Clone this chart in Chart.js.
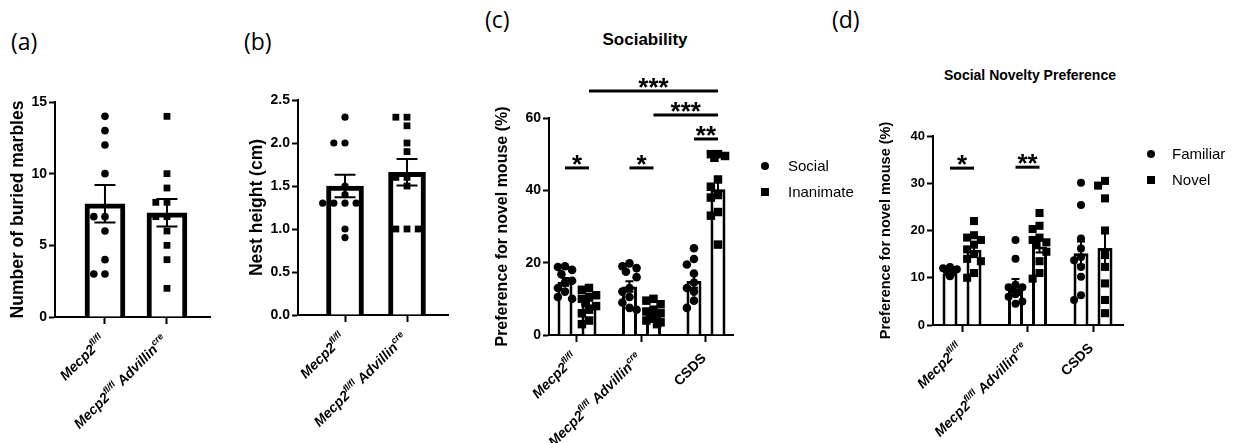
<!DOCTYPE html>
<html><head><meta charset="utf-8">
<script src="https://cdn.jsdelivr.net/npm/chart.js@4.4.1/dist/chart.umd.min.js"></script>
<style>
html,body{margin:0;padding:0;background:#fff;width:1234px;height:443px;overflow:hidden;position:relative;}
canvas{position:absolute;top:0;}
.plabel{position:absolute;font-family:"Open Sans","DejaVu Sans",sans-serif;font-size:23px;color:#000;line-height:1;}
.title{position:absolute;font-family:"Liberation Sans",Arial,sans-serif;font-weight:bold;color:#000;transform:translateX(-50%);white-space:nowrap;line-height:1;}
</style></head>
<body>
<div class="plabel" style="left:11px;top:30px">(a)</div>
<div class="plabel" style="left:244px;top:30px">(b)</div>
<div class="plabel" style="left:485px;top:8px">(c)</div>
<div class="plabel" style="left:832px;top:8px">(d)</div>
<div class="title" style="left:645px;top:31px;font-size:17px">Sociability</div>
<div class="title" style="left:1030px;top:68px;font-size:14px">Social Novelty Preference</div>
<canvas id="ca" width="235" height="443" style="left:0px;width:235px;height:443px"></canvas>
<canvas id="cb" width="245" height="443" style="left:235px;width:245px;height:443px"></canvas>
<canvas id="cc" width="380" height="443" style="left:480px;width:380px;height:443px"></canvas>
<canvas id="cd" width="374" height="443" style="left:860px;width:374px;height:443px"></canvas>
<script>
// ---------- DATA ----------
const groupsAB = ['*Mecp2*^{fl/fl}', '*Mecp2*^{fl/fl} *Advillin*^{cre}'];
const groupsCD = ['*Mecp2*^{fl/fl}', '*Mecp2*^{fl/fl} *Advillin*^{cre}', 'CSDS'];

// (a) buried marbles
const marblesMean = [7.9, 7.27];
const marblesCtrl = [14, 13, 12, 10, 7, 7, 6, 4, 3, 3];
const marblesCko = [14, 10, 9, 8, 8, 7, 7, 6, 5, 4, 2];
const marblesTicks = [0, 5, 10, 15];

// (b) nest height
const nestMean = [1.5, 1.66];
const nestCtrl = [2.3, 2.0, 2.0, 1.5, 1.4, 1.3, 1.3, 1.3, 1.3, 1.0, 0.9];
const nestCko = [2.3, 2.3, 2.2, 2.0, 1.9, 1.6, 1.6, 1.5, 1.0, 1.0, 1.0];
const nestTicks = [0, 0.5, 1, 1.5, 2, 2.5];

// (c) sociability
const socSeries = ['Social', 'Inanimate'];
const socSocialMean = [14.7, 13.4, 14.9];
const socInanMean = [8.5, 6.0, 40.3];
const socSocialPts = [
  [19, 18.8, 18, 16.8, 15, 14.5, 13, 12, 10.5, 10],
  [19.8, 19, 18.5, 17.5, 16, 13, 12, 10.5, 9, 7.5, 7],
  [24, 21, 19.5, 17, 14.5, 13, 12, 9.5, 7.5]
];
const socInanPts = [
  [13, 12.5, 11, 10.5, 10, 9, 8, 7, 6, 4, 3],
  [10, 9.5, 8.5, 7, 6.5, 6, 5, 4.5, 4, 3.5, 3],
  [50, 50, 49.5, 49, 43, 41, 39, 38, 34, 33, 25]
];
const socTicks = [0, 20, 40, 60];
const socComparisons = [
  {a: [0, 0], b: [0, 1], y: 46.2, label: '*'},
  {a: [1, 0], b: [1, 1], y: 46.2, label: '*'},
  {a: [2, 0], b: [2, 1], y: 54.2, label: '**'},
  {a: [1, 1], b: [2, 1], y: 60.8, label: '***'},
  {a: [0, 1], b: [2, 1], y: 67.5, label: '***'}
];

// (d) social novelty
const novSeries = ['Familiar', 'Novel'];
const novFamMean = [10.9, 8.5, 15.2];
const novNovMean = [15.9, 16.6, 16.3];
const novFamPts = [
  [12.3, 12, 11.8, 11.5, 11.2, 11, 11, 10.7, 10.5, 10.3],
  [18, 14, 8.5, 8, 8, 7.5, 7, 6.5, 6, 5, 4.5],
  [30.1, 25.4, 18.3, 16.2, 14.4, 13.7, 12.3, 10.2, 6.3, 5.3]
];
const novNovPts = [
  [22, 19, 18.5, 18, 17, 16, 15, 14, 13.5, 11, 10],
  [23.7, 21, 20.3, 18.5, 18, 17.5, 17, 15.5, 13.5, 11, 9.8],
  [30.5, 29.5, 26.8, 20, 14.8, 12.3, 8.8, 5.3, 2.5]
];
const novTicks = [0, 10, 20, 30, 40];
const novComparisons = [
  {a: [0, 0], b: [0, 1], y: 33.2, label: '*'},
  {a: [1, 0], b: [1, 1], y: 33.4, label: '**'}
];

// ---------- HELPERS ----------
const FONT = '"Liberation Sans", Arial, sans-serif';

function sem(arr) {
  const n = arr.length;
  const m = arr.reduce((a, b) => a + b, 0) / n;
  const v = arr.reduce((a, b) => a + (b - m) * (b - m), 0) / (n - 1);
  return Math.sqrt(v / n);
}

function swarm(values, center, thr, step, maxSlot) {
  const order = values.map((v, i) => i).sort((i, j) => values[j] - values[i]);
  const slots = [0];
  for (let s = 1; s <= maxSlot; s++) slots.push(-s, s);
  for (let s = 0; s < maxSlot; s++) slots.push(-(s + 0.5), s + 0.5);
  const placed = [];
  const out = new Array(values.length);
  order.forEach(i => {
    const v = values[i];
    const near = placed.filter(p => Math.abs(p.v - v) < thr);
    let best = 0, bestScore = -1;
    for (const s of slots) {
      const d = near.length ? Math.min(...near.map(p => Math.abs(p.s - s))) : Infinity;
      if (d >= 1) { best = s; break; }
      if (d > bestScore) { bestScore = d; best = s; }
    }
    placed.push({v, s: best});
    out[i] = {x: center + best * step, y: v};
  });
  return out;
}

function parseLabel(s) {
  const segs = [];
  const re = /\*([^*]+)\*|\^\{([^}]+)\}|([^*^]+)/g;
  let m;
  while ((m = re.exec(s))) {
    if (m[1]) segs.push({t: m[1], italic: true, sup: false});
    else if (m[2]) segs.push({t: m[2], italic: true, sup: true});
    else segs.push({t: m[3], italic: false, sup: false});
  }
  return segs;
}

function buildPanel(p) {
  const nS = p.series.length;
  const offsetOf = si => nS > 1 ? (si - (nS - 1) / 2) * p.catPct / nS : 0;
  const datasets = [];
  p.series.forEach((s, si) => {
    datasets.push({
      type: 'bar', label: s.name, order: 2,
      data: s.means.map((m, gi) => ({x: gi, y: m})),
      backgroundColor: '#ffffff', borderColor: '#000000', borderWidth: p.barBorder,
      borderSkipped: 'start',
      categoryPercentage: p.catPct || 0.8, barPercentage: p.barPct || 0.9,
      barThickness: p.barThickness
    });
  });
  p.series.forEach((s, si) => {
    s.pts.forEach((arr, gi) => {
      const shape = p.shape(si, gi);
      datasets.push({
        type: 'scatter', label: s.name + '-' + gi, order: 1,
        data: swarm(arr, gi + offsetOf(si), p.thr, p.step, p.maxSlot),
        pointStyle: shape, pointRadius: p.radius[shape], pointHoverRadius: p.radius[shape],
        pointBackgroundColor: '#000000', pointBorderWidth: 0, backgroundColor: '#000000',
        clip: false
      });
    });
  });

  const extras = {
    id: 'extras_' + p.id,
    afterDatasetsDraw(chart) {
      const ctx = chart.ctx;
      const ys = chart.scales.y;
      ctx.save();
      ctx.strokeStyle = '#000'; ctx.fillStyle = '#000';
      // error bars (mean ± SEM)
      p.series.forEach((s, si) => {
        const meta = chart.getDatasetMeta(si);
        meta.data.forEach((bar, gi) => {
          const m = s.means[gi], e = sem(s.pts[gi]);
          const x = bar.x, yT = ys.getPixelForValue(m + e), yB = ys.getPixelForValue(m - e);
          ctx.lineWidth = 2;
          ctx.beginPath();
          ctx.moveTo(x, yT); ctx.lineTo(x, yB);
          ctx.moveTo(x - p.capW / 2, yT); ctx.lineTo(x + p.capW / 2, yT);
          ctx.moveTo(x - p.capW / 2, yB); ctx.lineTo(x + p.capW / 2, yB);
          ctx.stroke();
        });
      });
      // significance comparisons
      (p.comparisons || []).forEach(c => {
        const xa = chart.getDatasetMeta(c.a[1]).data[c.a[0]].x;
        const xb = chart.getDatasetMeta(c.b[1]).data[c.b[0]].x;
        const y = ys.getPixelForValue(c.y);
        ctx.lineWidth = 3;
        ctx.beginPath(); ctx.moveTo(xa, y); ctx.lineTo(xb, y); ctx.stroke();
        ctx.font = p.starFont;
        ctx.textAlign = 'center'; ctx.textBaseline = 'alphabetic';
        ctx.fillText(c.label, (xa + xb) / 2, y + p.starDy);
      });
      ctx.restore();
    },
    afterDraw(chart) {
      const ctx = chart.ctx;
      const xs = chart.scales.x;
      const axisY = chart.chartArea.bottom;
      ctx.save();
      ctx.fillStyle = '#000';
      // rotated category labels with superscripts
      p.groups.forEach((lab, i) => {
        const segs = parseLabel(lab);
        const fontFor = sg => (sg.italic ? 'italic ' : '') + 'bold ' + (sg.sup ? p.supSize : p.labSize) + 'px ' + FONT;
        let W = 0;
        segs.forEach(sg => { ctx.font = fontFor(sg); sg.w = ctx.measureText(sg.t).width; W += sg.w; });
        ctx.save();
        ctx.translate(xs.getPixelForValue(i) + p.labDx, axisY + p.labDy);
        ctx.rotate(-Math.PI / 4);
        ctx.textAlign = 'left'; ctx.textBaseline = 'alphabetic';
        let x = -W;
        segs.forEach(sg => { ctx.font = fontFor(sg); ctx.fillText(sg.t, x, sg.sup ? -p.supRise : 0); x += sg.w; });
        ctx.restore();
      });
      // legend
      if (p.legend) {
        const L = p.legend;
        p.series.forEach((s, si) => {
          const y = L.y + si * L.dy;
          const shape = p.shape(si, 0);
          if (shape === 'circle') {
            ctx.beginPath(); ctx.arc(L.x, y, L.r, 0, Math.PI * 2); ctx.fill();
          } else {
            ctx.fillRect(L.x - L.r, y - L.r, 2 * L.r, 2 * L.r);
          }
          ctx.font = L.size + 'px ' + FONT;
          ctx.textAlign = 'left'; ctx.textBaseline = 'middle';
          ctx.fillText(s.name, L.tx, y + 1);
        });
      }
      ctx.restore();
    }
  };

  const axisCommon = {
    grid: {display: true, drawOnChartArea: false, drawTicks: true, tickWidth: 2, tickColor: '#000', color: '#000'},
    border: {display: true, color: '#000', width: 2}
  };

  return new Chart(document.getElementById(p.id), {
    type: 'bar',
    data: {datasets},
    options: {
      responsive: false, animation: false, devicePixelRatio: 1,
      layout: {padding: p.pad},
      plugins: {legend: {display: false}, tooltip: {enabled: false}},
      scales: {
        x: {
          type: 'linear', min: p.xMin, max: p.xMax, offset: false,
          afterBuildTicks: sc => { sc.ticks = p.groups.map((_, i) => ({value: i})); },
          afterFit: sc => { sc.height = 9; },
          ticks: {display: false},
          grid: Object.assign({}, axisCommon.grid, {offset: false, tickLength: 7}),
          border: axisCommon.border
        },
        y: {
          type: 'linear', min: p.yTicks[0], max: p.yTicks[p.yTicks.length - 1],
          afterBuildTicks: sc => { sc.ticks = p.yTicks.map(v => ({value: v})); },
          afterFit: sc => { sc.width = p.yWidth; },
          ticks: {display: true, color: '#000', padding: 2, font: {family: FONT, size: p.tickSize, weight: 'bold'}, callback: v => p.fmt(v)},
          grid: Object.assign({}, axisCommon.grid, {tickLength: 6}),
          border: axisCommon.border,
          title: {display: true, text: p.yTitle, color: '#000', font: {family: FONT, size: p.titleSize, weight: 'bold'}, padding: {top: p.titlePad, bottom: 0}}
        }
      }
    },
    plugins: [extras]
  });
}

const labelStyle = {labSize: 14, supSize: 9, supRise: 6, labDx: 1, labDy: 24};

buildPanel(Object.assign({
  id: 'ca', groups: groupsAB, xMin: -0.806, xMax: 1.694,
  series: [{name: 'marbles', means: marblesMean, pts: [marblesCtrl, marblesCko]}],
  shape: (si, gi) => gi === 0 ? 'circle' : 'rect', radius: {circle: 3.8, rect: 4.8},
  yTicks: marblesTicks, fmt: v => String(v), yTitle: 'Number of buried marbles',
  yWidth: 55, titleSize: 17.5, titlePad: 7.5, tickSize: 14,
  pad: {left: 0, top: 102, right: 25, bottom: 117},
  barThickness: 40, barBorder: 5, capW: 21, thr: 0.56, step: 0.18, maxSlot: 2
}, labelStyle));

buildPanel(Object.assign({
  id: 'cb', groups: groupsAB, xMin: -0.758, xMax: 1.661,
  series: [{name: 'nest', means: nestMean, pts: [nestCtrl, nestCko]}],
  shape: (si, gi) => gi === 0 ? 'circle' : 'rect', radius: {circle: 3.6, rect: 4.8},
  yTicks: nestTicks, fmt: v => v.toFixed(1), yTitle: 'Nest height (cm)',
  yWidth: 63, titleSize: 17.5, titlePad: 11.5, tickSize: 14,
  pad: {left: 0, top: 100, right: 32, bottom: 119},
  barThickness: 37, barBorder: 5, capW: 21, thr: 0.08, step: 0.18, maxSlot: 2
}, labelStyle));

buildPanel(Object.assign({
  id: 'cc', groups: groupsCD, xMin: -0.434, xMax: 2.419,
  series: [
    {name: socSeries[0], means: socSocialMean, pts: socSocialPts},
    {name: socSeries[1], means: socInanMean, pts: socInanPts}
  ],
  shape: (si) => si === 0 ? 'circle' : 'rect', radius: {circle: 4.3, rect: 6},
  yTicks: socTicks, fmt: v => String(v), yTitle: 'Preference for novel mouse (%)',
  yWidth: 69, titleSize: 16, titlePad: 13.4, tickSize: 14,
  pad: {left: 0, top: 118, right: 127, bottom: 99},
  catPct: 0.744, barPct: 0.625, barBorder: 3, capW: 8, thr: 2.4, step: 0.11, maxSlot: 1,
  comparisons: socComparisons, starFont: 'bold 26px ' + FONT, starDy: 5,
  legend: {x: 285, y: 166, dy: 26, tx: 308, r: 4, size: 15}
}, labelStyle));

buildPanel(Object.assign({
  id: 'cd', groups: groupsCD, xMin: -0.443, xMax: 2.458,
  series: [
    {name: novSeries[0], means: novFamMean, pts: novFamPts},
    {name: novSeries[1], means: novNovMean, pts: novNovPts}
  ],
  shape: (si) => si === 0 ? 'circle' : 'rect', radius: {circle: 4, rect: 5.7},
  yTicks: novTicks, fmt: v => String(v), yTitle: 'Preference for novel mouse (%)',
  yWidth: 73, titleSize: 14.5, titlePad: 17.3, tickSize: 13,
  pad: {left: 0, top: 136, right: 111, bottom: 109},
  catPct: 0.733, barPct: 0.625, barBorder: 3, capW: 8, thr: 1.7, step: 0.105, maxSlot: 1,
  comparisons: novComparisons, starFont: 'bold 26px ' + FONT, starDy: 5,
  legend: {x: 291, y: 154, dy: 26, tx: 312, r: 4, size: 15}
}, labelStyle));
</script>
</body></html>
